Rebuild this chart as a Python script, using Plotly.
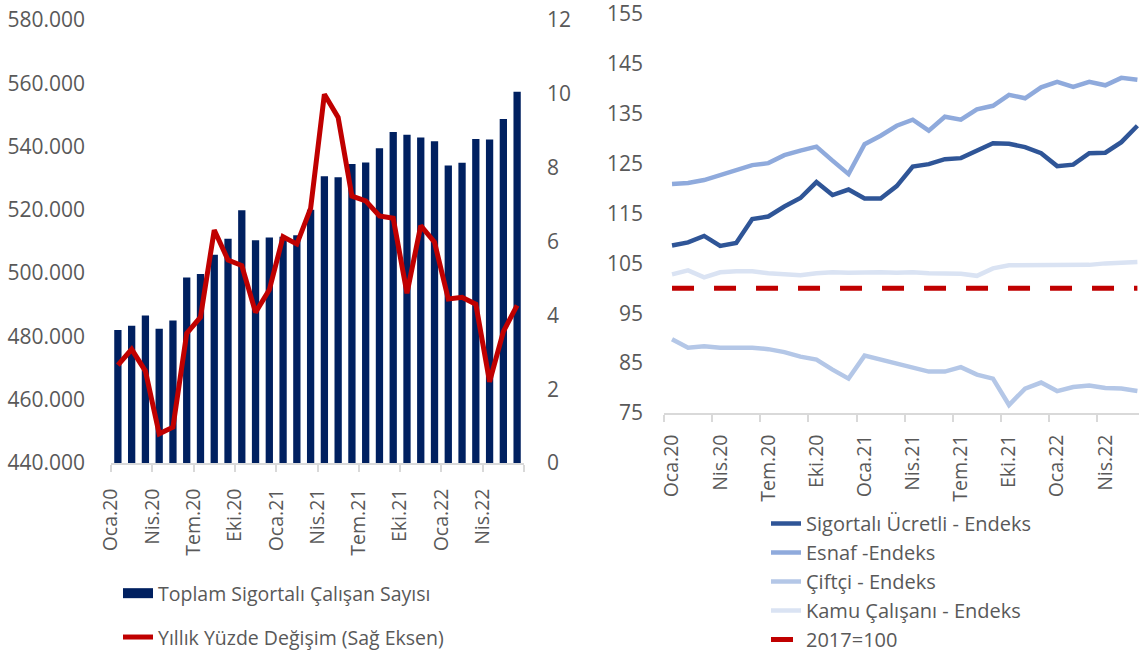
import plotly.graph_objects as go

W, H = 1139, 652

months = ["Oca.20", "Şub.20", "Mar.20", "Nis.20", "May.20", "Haz.20", "Tem.20", "Ağu.20", "Eyl.20", "Eki.20", "Kas.20", "Ara.20",
          "Oca.21", "Şub.21", "Mar.21", "Nis.21", "May.21", "Haz.21", "Tem.21", "Ağu.21", "Eyl.21", "Eki.21", "Kas.21", "Ara.21",
          "Oca.22", "Şub.22", "Mar.22", "Nis.22", "May.22", "Haz.22"]

toplam_sigortali = [482000, 483400, 486600, 482400, 485000, 498600, 499700, 505800, 510900, 519900, 510400, 511300,
                    511500, 512000, 520000, 530600, 530300, 534500, 535000, 539500, 544600, 543700, 542900, 541700,
                    534000, 534900, 542400, 542200, 548700, 557300]

yillik_degisim = [2.65, 3.08, 2.49, 0.79, 0.97, 3.51, 3.95, 6.31, 5.50, 5.35, 4.08, 4.69,
                  6.13, 5.93, 6.90, 9.99, 9.36, 7.23, 7.10, 6.69, 6.63, 4.60, 6.43, 5.98,
                  4.44, 4.49, 4.30, 2.20, 3.56, 4.27]

sigortali_ucretli = [108.6, 109.2, 110.5, 108.5, 109.1, 113.9, 114.4, 116.4, 118.1, 121.3, 118.7, 119.8,
                     118.0, 118.0, 120.5, 124.4, 124.9, 125.9, 126.1, 127.7, 129.1, 129.0, 128.3, 127.1,
                     124.5, 124.8, 127.1, 127.2, 129.3, 132.6]

esnaf = [120.9, 121.1, 121.7, 122.7, 123.7, 124.7, 125.1, 126.7, 127.6, 128.4, 125.6, 122.9,
         128.9, 130.6, 132.6, 133.8, 131.6, 134.4, 133.8, 135.9, 136.6, 138.8, 138.1, 140.3,
         141.4, 140.4, 141.4, 140.7, 142.2, 141.8]

ciftci = [89.8, 88.1, 88.4, 88.1, 88.1, 88.1, 87.8, 87.2, 86.3, 85.7, 83.7, 81.9,
          86.5, 85.7, 85.0, 84.2, 83.3, 83.3, 84.2, 82.7, 81.9, 76.6, 79.9, 81.1,
          79.4, 80.2, 80.5, 80.0, 79.9, 79.4]

kamu = [102.8, 103.6, 102.2, 103.2, 103.4, 103.4, 103.0, 102.8, 102.6, 103.0, 103.2, 103.1,
        103.2, 103.2, 103.1, 103.2, 103.0, 102.9, 102.9, 102.5, 104.0, 104.6, 104.6, 104.6,
        104.8, 104.7, 104.7, 105.0, 105.2, 105.3]

baz_2017 = [100] * len(months)

left_y_ticks = [440000, 460000, 480000, 500000, 520000, 540000, 560000, 580000]
right_y2_ticks = [0, 2, 4, 6, 8, 10, 12]
right_panel_ticks = [75, 85, 95, 105, 115, 125, 135, 145, 155]

FONT = "Open Sans"
GREY = "#595959"
AXIS = "#D9D9D9"
NAVY = "#002060"
FS = 21      # y tick labels
XFS = 19.5   # rotated x tick labels
LFS1 = 19.5  # left legend
LFS2 = 20    # right legend

idx = list(range(len(months)))
label_step = 3
left_tickvals = [i - 0.5 for i in range(0, len(months), label_step)] + [len(months) - 0.5]
left_ticktext = [months[i] for i in range(0, len(months), label_step)] + [""]


def px_x(p):
    return p / W


def px_y(p):
    return (H - p) / H


fig = go.Figure()

fig.add_trace(go.Bar(x=idx, y=toplam_sigortali, name="Toplam Sigortalı Çalışan Sayısı",
                     marker=dict(color=NAVY, line=dict(width=0)), showlegend=False,
                     xaxis="x", yaxis="y", legend="legend", legendgroup="a"))
# legend key for the bars (wide navy block, as in the original)
fig.add_trace(go.Scatter(x=[None], y=[None], name="Toplam Sigortalı Çalışan Sayısı",
                         mode="lines", line=dict(color=NAVY, width=14),
                         xaxis="x", yaxis="y", legend="legend", legendgroup="a", hoverinfo="skip"))
fig.add_trace(go.Scatter(x=idx, y=yillik_degisim, name="Yıllık Yüzde Değişim (Sağ Eksen)",
                         mode="lines", line=dict(color="#C00000", width=5),
                         xaxis="x", yaxis="y2", legend="legend", legendgroup="b"))

right_series = [
    ("Sigortalı Ücretli - Endeks", sigortali_ucretli, "#2F5597", "solid"),
    ("Esnaf -Endeks", esnaf, "#8FAADC", "solid"),
    ("Çiftçi - Endeks", ciftci, "#B4C7E7", "solid"),
    ("Kamu Çalışanı - Endeks", kamu, "#DAE3F3", "solid"),
    ("2017=100", baz_2017, "#C00000", "22px,20px"),
]
for name, vals, col, dash in right_series:
    fig.add_trace(go.Scatter(x=months, y=vals, name=name, mode="lines",
                             line=dict(color=col, width=5 if dash != "solid" else 4.5, dash=dash),
                             xaxis="x3", yaxis="y3", legend="legend2"))

tickfont = dict(family=FONT, size=FS, color=GREY)
xtickfont = dict(family=FONT, size=XFS, color=GREY)

fig.update_layout(
    template="none",
    width=W, height=H,
    margin=dict(l=0, r=0, t=0, b=0, pad=0, autoexpand=False),
    paper_bgcolor="white", plot_bgcolor="white",
    separators=",.",
    bargap=0.47,
    font=dict(family=FONT, size=FS, color=GREY),
    xaxis=dict(domain=[px_x(111), px_x(524)], range=[-0.5, len(months) - 0.5],
               tickmode="array", tickvals=left_tickvals, ticktext=left_ticktext,
               tickangle=-90, ticks="outside", ticklen=7, tickcolor=AXIS, tickwidth=1.5,
               showline=True, linecolor=AXIS, linewidth=1.5, showgrid=False, zeroline=False,
               tickfont=xtickfont, ticklabelstandoff=9, anchor="y", automargin=False,
               ticklabeloverflow="allow"),
    yaxis=dict(domain=[px_y(463), px_y(20)], range=[440000, 580000],
               tickmode="array", tickvals=left_y_ticks,
               tickformat=",.0f", showgrid=False, zeroline=False, showline=False,
               ticks="", tickfont=tickfont, ticklabelstandoff=25, anchor="x", automargin=False,
               ticklabeloverflow="allow"),
    yaxis2=dict(overlaying="y", side="right", range=[0, 12],
                tickmode="array", tickvals=right_y2_ticks,
                showgrid=False, zeroline=False, showline=False, ticks="",
                tickfont=tickfont, ticklabelstandoff=22, anchor="x", automargin=False,
                ticklabeloverflow="allow"),
    xaxis3=dict(domain=[px_x(664), 1.0], type="category", range=[-0.5, 29.1],
                tickmode="linear", tick0=0, dtick=3, tickson="boundaries",
                tickangle=-90, ticks="outside", ticklen=7, tickcolor=AXIS, tickwidth=1.5,
                showline=True, linecolor=AXIS, linewidth=1.5, showgrid=False, zeroline=False,
                tickfont=xtickfont, ticklabelstandoff=12, anchor="y3", automargin=False,
                ticklabeloverflow="allow"),
    yaxis3=dict(domain=[px_y(413), px_y(14)], range=[75, 155],
                tickmode="array", tickvals=right_panel_ticks,
                showgrid=False, zeroline=False, showline=False, ticks="",
                tickfont=tickfont, ticklabelstandoff=20, anchor="x3", automargin=False,
                ticklabeloverflow="allow"),
    legend=dict(x=px_x(118), y=px_y(574), xanchor="left", yanchor="top",
                orientation="v", tracegroupgap=15.5, font=dict(family=FONT, size=LFS1, color=GREY),
                bgcolor="rgba(0,0,0,0)", borderwidth=0),
    legend2=dict(x=px_x(766), y=px_y(504), xanchor="left", yanchor="top",
                 orientation="v", font=dict(family=FONT, size=LFS2, color=GREY),
                 bgcolor="rgba(0,0,0,0)", tracegroupgap=0, borderwidth=0),
)

fig.write_html("out.html", config={"displayModeBar": False},
               post_script="document.body.style.margin='0px';")
